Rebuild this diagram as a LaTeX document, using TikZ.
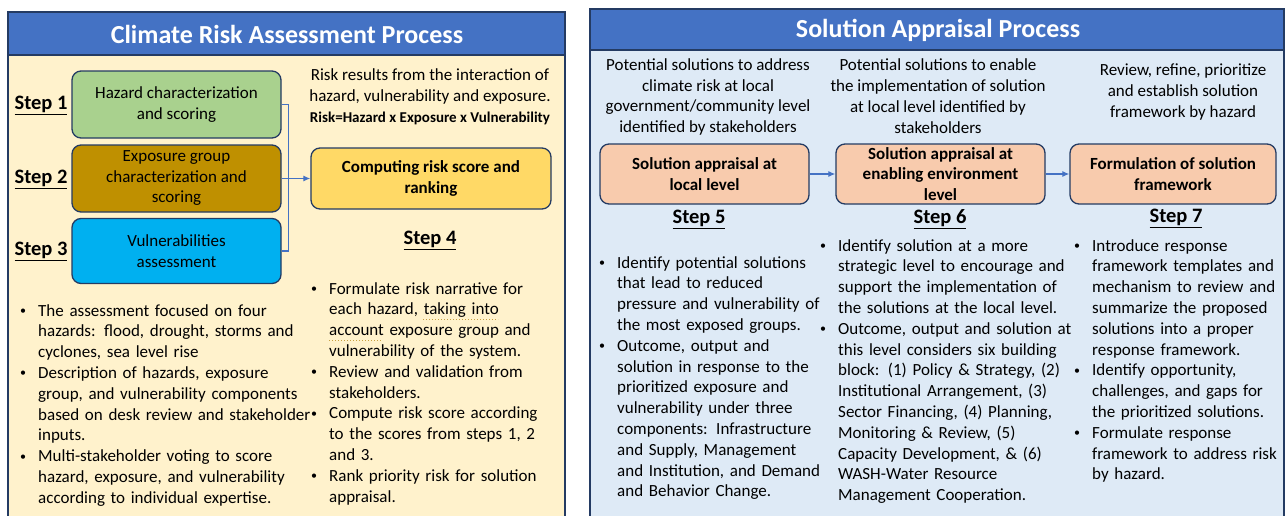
\documentclass[tikz,border=0pt]{standalone}
\usepackage{fontspec}
\setmainfont{Carlito}
\usepackage{enumitem}
\usetikzlibrary{positioning,arrows.meta}
\definecolor{hdrblue}{HTML}{4472C4}
\definecolor{navy}{HTML}{243B63}
\definecolor{creamy}{HTML}{FFF2CC}
\definecolor{paleblue}{HTML}{DEEAF6}
\definecolor{hazgreen}{HTML}{A9D18E}
\definecolor{expgold}{HTML}{BF9000}
\definecolor{vulcyan}{HTML}{00B0F0}
\definecolor{riskyellow}{HTML}{FFD966}
\definecolor{salmon}{HTML}{F8CBAD}
\definecolor{spellgold}{HTML}{C8A040}
\setlist[itemize]{label={\raisebox{1.5pt}{\fontsize{12}{12}\selectfont\textbullet}},leftmargin=20pt,labelsep=12pt,
  itemsep=0pt,topsep=0pt,parsep=0pt,partopsep=0pt}
\tikzset{
  panel/.style={draw=navy,line width=1.6pt},
  header/.style={text=white,font=\fontsize{26}{30}\selectfont\bfseries},
  stepbox/.style={draw=navy,line width=1.3pt,rounded corners=9pt,align=center,inner sep=1pt,
    font=\fontsize{17}{20.5}\selectfont},
  steplabel/.style={font=\fontsize{20.5}{24}\selectfont\bfseries},
  note/.style={align=center,inner sep=0pt,font=\fontsize{17}{20.8}\selectfont},
  blist/.style={anchor=north west,inner sep=0pt,text width=#1,font=\fontsize{17}{20.8}\selectfont},
  link/.style={hdrblue,line width=1.2pt,-{Latex[length=7pt,width=6pt]}},
}
\newcommand{\stp}[1]{\underline{Step #1}}

\begin{document}
\begin{tikzpicture}[x=1pt,y=-1pt]
\useasboundingbox (0,0) rectangle (1285,515);
\fill[white] (0,0) rectangle (1285,515);

% risk assessment panel
\draw[panel,fill=creamy] (8,12) rectangle (565,540);
\draw[panel,fill=hdrblue] (8,12) rectangle (565,55);
\node[header] (riskttl) at (287,34) {Climate Risk Assessment Process};

\node[stepbox,fill=hazgreen,minimum width=209pt,minimum height=67pt] (haz) at (176.5,104.5)
  {Hazard characterization\\and scoring};
\node[stepbox,fill=expgold,minimum width=209pt,minimum height=67pt] (expo) at (176.5,178.5)
  {Exposure group\\characterization and\\scoring};
\node[stepbox,fill=vulcyan,minimum width=209pt,minimum height=65pt] (vul) at (176.5,251)
  {Vulnerabilities\\assessment};
\node[stepbox,fill=riskyellow,minimum width=240pt,minimum height=61pt,font=\fontsize{17}{20.5}\selectfont\bfseries]
  (risk) at (431,178.5) {Computing risk score and\\ranking};

\node[steplabel] (s1) at (41,105) {\stp{1}};
\node[steplabel] (s2) at (41,179) {\stp{2}};
\node[steplabel] (s3) at (41,251) {\stp{3}};
\node[steplabel] (s4) at (430,240) {\stp{4}};

\draw[hdrblue,line width=1.2pt] (haz.east) -- ++(7,0) |- (vul.east);
\draw[link] (expo.east) -- (risk.west);

\node[note] (riskdef) at (430,97) {Risk results from the interaction of\\hazard, vulnerability and exposure.\\
  {\fontsize{15}{19}\selectfont\bfseries Risk=Hazard x Exposure x Vulnerability}};

\node[blist=300pt] (riskl) at (18,295) {\begin{itemize}
  \item The assessment focused on four\\hazards: flood, drought, storms and\\cyclones, sea level rise
  \item Description of hazards, exposure\\group, and vulnerability components\\based on desk review and stakeholder\\inputs.
  \item Multi-stakeholder voting to score\\hazard, exposure, and vulnerability\\according to individual expertise.
\end{itemize}};
\node[blist=260pt] (riskr) at (309,273) {\begin{itemize}
  \item Formulate risk narrative for\\each hazard, taking into\\account exposure group and\\vulnerability of the system.
  \item Review and validation from\\stakeholders.
  \item Compute risk score according\\to the scores from steps 1, 2\\and 3.
  \item Rank priority risk for solution\\appraisal.
\end{itemize}};
\draw[spellgold,dotted,line width=1pt] (423,319) -- (498,319);
\draw[spellgold,dotted,line width=1pt] (329,340) -- (381,340);

% solution appraisal panel
\draw[panel,fill=paleblue] (590,9) rectangle (1284,540);
\draw[panel,fill=hdrblue] (590,9) rectangle (1284,50);
\node[header] (solttl) at (938,30) {Solution Appraisal Process};

\node[note] (t5) at (708,97) {Potential solutions to address\\climate risk at local\\government/community level\\identified by stakeholders};
\node[note] (t6) at (938,96) {Potential solutions to enable\\the implementation of solution\\at local level identified by\\stakeholders};
\node[note] (t7) at (1183,92) {Review, refine, prioritize\\and establish solution\\framework by hazard};

\tikzset{solbox/.style={stepbox,fill=salmon,minimum width=209pt,minimum height=60pt,
  font=\fontsize{17}{20.5}\selectfont\bfseries}}
\node[solbox] (loc) at (704.5,174) {Solution appraisal at\\local level};
\node[solbox] (env) at (940.5,174) {Solution appraisal at\\enabling environment\\level};
\node[solbox,minimum width=206pt] (frame) at (1173,174) {Formulation of solution\\framework};
\draw[link] (loc) -- (env);
\draw[link] (env) -- (frame);

\node[steplabel] (s5) at (699,219) {\stp{5}};
\node[steplabel] (s6) at (940,219) {\stp{6}};
\node[steplabel] (s7) at (1176,218) {\stp{7}};

\node[blist=240pt] (l5) at (597,247) {\begin{itemize}
  \item Identify potential solutions\\that lead to reduced\\pressure and vulnerability of\\the most exposed groups.
  \item Outcome, output and\\solution in response to the\\prioritized exposure and\\vulnerability under three\\components: Infrastructure\\and Supply, Management\\and Institution, and Demand\\and Behavior Change.
\end{itemize}};
\node[blist=290pt] (l6) at (818,230) {\begin{itemize}
  \item Identify solution at a more\\strategic level to encourage and\\support the implementation of\\the solutions at the local level.
  \item Outcome, output and solution at\\this level considers six building\\block: (1) Policy \& Strategy, (2)\\Institutional Arrangement, (3)\\Sector Financing, (4) Planning,\\Monitoring \& Review, (5)\\Capacity Development, \& (6)\\WASH-Water Resource\\Management Cooperation.
\end{itemize}};
\node[blist=210pt] (l7) at (1072,230) {\begin{itemize}
  \item Introduce response\\framework templates and\\mechanism to review and\\summarize the proposed\\solutions into a proper\\response framework.
  \item Identify opportunity,\\challenges, and gaps for\\the prioritized solutions.
  \item Formulate response\\framework to address risk\\by hazard.
\end{itemize}};
\end{tikzpicture}
\end{document}
